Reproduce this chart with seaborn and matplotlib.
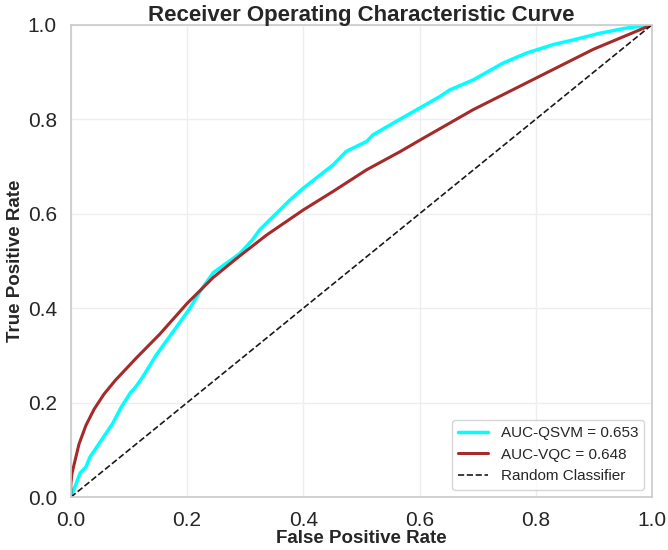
import numpy as np
import pandas as pd
import matplotlib
matplotlib.use("Agg")
import matplotlib.pyplot as plt
import seaborn as sns

# ROC points
qsvm_fpr = [0.0, 0.009, 0.016, 0.026, 0.033, 0.049, 0.072, 0.087, 0.102, 0.112,
            0.124, 0.147, 0.170, 0.205, 0.222, 0.245, 0.256, 0.279, 0.291, 0.312,
            0.325, 0.354, 0.377, 0.400, 0.429, 0.451, 0.474, 0.509, 0.520, 0.555,
            0.595, 0.635, 0.652, 0.692, 0.744, 0.784, 0.830, 0.865, 0.910, 0.956,
            1.0]
qsvm_tpr = [0.0, 0.028, 0.051, 0.064, 0.085, 0.114, 0.156, 0.191, 0.220, 0.234,
            0.255, 0.301, 0.340, 0.400, 0.435, 0.475, 0.485, 0.505, 0.516, 0.544,
            0.566, 0.601, 0.629, 0.654, 0.682, 0.703, 0.732, 0.753, 0.767, 0.792,
            0.820, 0.848, 0.862, 0.883, 0.919, 0.940, 0.958, 0.968, 0.982, 0.993,
            1.0]

vqc_fpr = [0.0, 0.0, 0.002, 0.006, 0.014, 0.026, 0.040, 0.057, 0.077, 0.113,
           0.153, 0.200, 0.245, 0.290, 0.337, 0.400, 0.451, 0.509, 0.566, 0.601,
           0.692, 0.802, 0.899, 1.0]
vqc_tpr = [0.0, 0.028, 0.050, 0.071, 0.112, 0.152, 0.186, 0.218, 0.248, 0.295,
           0.345, 0.410, 0.465, 0.510, 0.555, 0.608, 0.647, 0.693, 0.731, 0.756,
           0.820, 0.888, 0.948, 1.0]

auc_qsvm = 0.653
auc_vqc = 0.648

sns.set_theme(style="whitegrid")
plt.rcParams['font.family'] = ['Liberation Sans', 'DejaVu Sans']

fig, ax = plt.subplots(figsize=(6.68, 5.5), dpi=100)
fig.subplots_adjust(left=0.106, right=0.976, top=0.955, bottom=0.096)

df_q = pd.DataFrame({'fpr': qsvm_fpr, 'tpr': qsvm_tpr})
df_v = pd.DataFrame({'fpr': vqc_fpr, 'tpr': vqc_tpr})

sns.lineplot(data=df_q, x='fpr', y='tpr', sort=False, estimator=None, color='cyan',
             lw=2.5, label=f'AUC-QSVM = {auc_qsvm:.3f}', ax=ax)
sns.lineplot(data=df_v, x='fpr', y='tpr', sort=False, estimator=None, color='brown',
             lw=2.2, label=f'AUC-VQC = {auc_vqc:.3f}', ax=ax)
ax.plot([0, 1], [0, 1], color='k', ls='--', lw=1.2, label='Random Classifier')

ax.set_xlim(0, 1)
ax.set_ylim(0, 1)
ax.set_xticks(np.arange(0, 1.01, 0.2))
ax.set_yticks(np.arange(0, 1.01, 0.2))
ax.tick_params(axis='x', labelsize=15, pad=4)
ax.tick_params(axis='y', labelsize=15, pad=4)
ax.set_xlabel('False Positive Rate', fontsize=13.5, fontweight='bold', labelpad=0)
ax.set_ylabel('True Positive Rate', fontsize=13.5, fontweight='bold', labelpad=3)
ax.set_title('Receiver Operating Characteristic Curve', fontsize=16, fontweight='bold', pad=3)
ax.grid(color='#eeeeee')
ax.legend(loc='lower right', fontsize=11)

fig.savefig('out.png', dpi=100)
